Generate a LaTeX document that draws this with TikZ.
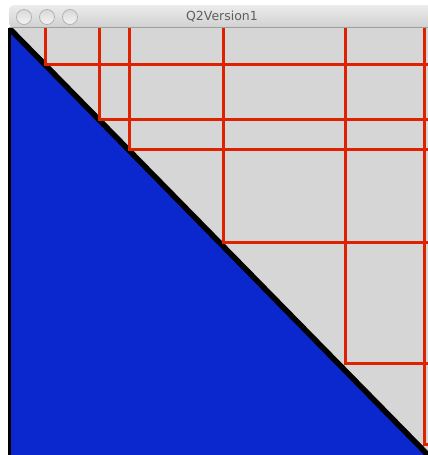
\documentclass[tikz,border=0pt]{standalone}
\usepackage{fontspec}
\setsansfont{DejaVu Sans}
\usepackage{xcolor}
\definecolor{panegray}{RGB}{214,214,214}
\definecolor{fillblue}{RGB}{10,40,205}
\definecolor{gridred}{RGB}{222,34,0}
\definecolor{bartop}{RGB}{236,236,236}
\definecolor{barbottom}{RGB}{208,208,208}
\definecolor{titlegray}{RGB}{95,95,95}

\begin{document}
\begin{tikzpicture}[x=1pt,y=-1pt,
        redline/.style={draw=gridred,line width=3pt},
        button/.style={circle,draw=gray!60,line width=0.8pt,inner sep=0pt,minimum size=15pt,
          top color=gray!30,bottom color=gray!8},
        title/.style={font=\sffamily\fontsize{12.5}{14}\selectfont,text=titlegray}]
        \useasboundingbox[fill=white] (0,0) rectangle (428,455);
        % title bar
        \shade[top color=bartop,bottom color=barbottom,rounded corners=5pt]
          (9,28) -- (9,5) -- (440,5) -- (440,28) -- cycle;
        \draw[gray!75,line width=1pt] (9,27.5) -- (428,27.5);
        \node[button] (close) at (24,17) {};
        \node[button] (mini) at (47,17) {};
        \node[button] (zoom) at (70,17) {};
        \node[title] (caption) at (222,16.5) {Q2Version1};
        % drawing area
        \coordinate (tl) at (9,28);
        \coordinate (bl) at (9,455);
        \coordinate (br) at (428,455);
        \fill[panegray] (tl) rectangle (428,455);
        \begin{scope}
          \clip (tl) rectangle (br);
          \fill[fillblue] (tl) -- (bl) -- (br) -- cycle;
          \draw[black,line width=5.5pt] (tl) -- (br);
          \foreach \x/\y in {45/64,99/119,129/149,223/242,345/363,424/444}{
            \draw[redline] (\x,28) -- (\x,\y) -- (440,\y);
          }
        \end{scope}
        \draw[black,line width=3pt] (9.5,28) -- (9.5,455);
      \end{tikzpicture}
\end{document}
